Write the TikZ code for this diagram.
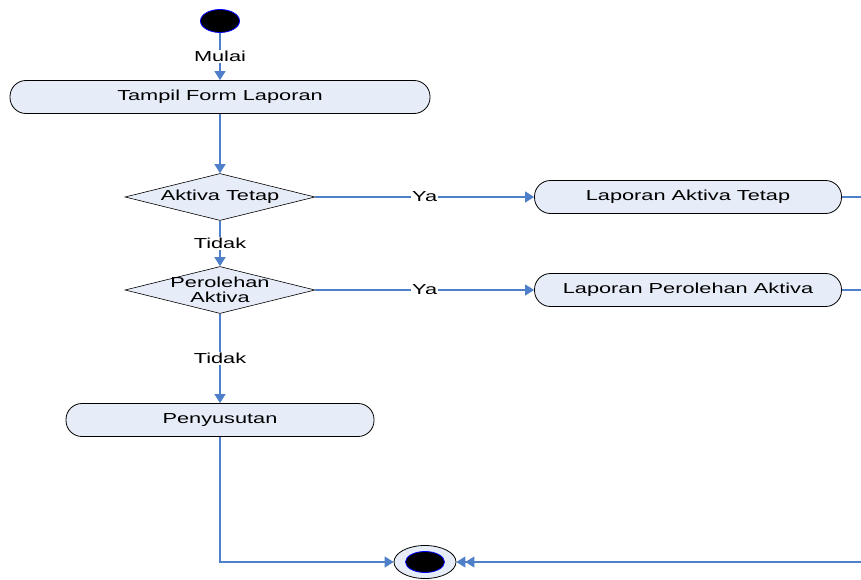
\documentclass[tikz,border=0pt]{standalone}
\usepackage{fontspec}
\setmainfont{Liberation Sans}[FakeStretch=1.5]
\usetikzlibrary{shapes.geometric,arrows.meta}
\definecolor{actfill}{HTML}{E7EDF8}
\definecolor{flowblue}{HTML}{4F7FC8}
\begin{document}
\begin{tikzpicture}[x=1pt,y=-1pt,
    font=\fontsize{14.5}{16}\selectfont,
    action/.style={draw=black, line width=0.8pt, fill=actfill, rounded corners=16pt, minimum height=33pt, inner sep=0pt},
    decision/.style={diamond, draw=black, line width=0.6pt, fill=actfill, minimum width=190pt, minimum height=47pt, inner sep=0pt},
    flow/.style={draw=flowblue, line width=1.1pt, -{Triangle[width=11pt,length=9pt]}},
    flowlabel/.style={fill=white, inner sep=1pt}]
            \useasboundingbox (0,0) rectangle (861,580);

            % Start node
            \node[ellipse, draw=blue, fill=black, line width=0.8pt, minimum width=39pt, minimum height=23pt, inner sep=0pt] (start) at (220,21) {};

            % Form node
            \node[action, minimum width=420pt] (form) at (220,97) {Tampil Form Laporan};
            \draw[flow] (start) -- node[flowlabel] {Mulai} (form);

            % First decision
            \node[decision, label={center:Aktiva Tetap}] (aktiva) at (220,197) {};
            \draw[flow] (form) -- (aktiva);

            \node[action, minimum width=307pt] (lapaktiva) at (688,197) {Laporan Aktiva Tetap};
            \draw[flow] (aktiva) -- node[flowlabel] {Ya} (lapaktiva);

            % Second decision
            \node[decision, label={[align=center, font=\fontsize{14.5}{15}\selectfont]center:Perolehan\\Aktiva}] (perolehan) at (220,290) {};
            \draw[flow] (aktiva) -- node[flowlabel] {Tidak} (perolehan);

            \node[action, minimum width=307pt] (lapperolehan) at (688,290) {Laporan Perolehan Aktiva};
            \draw[flow] (perolehan) -- node[flowlabel] {Ya} (lapperolehan);

            % Penyusutan
            \node[action, minimum width=308pt] (susut) at (220,420) {Penyusutan};
            \draw[flow] (perolehan) -- node[flowlabel] {Tidak} (susut);

            % End node
            \node[ellipse, draw=black, fill=actfill, line width=0.8pt, minimum width=62pt, minimum height=33pt, inner sep=0pt] (finish) at (425,562) {};
            \node[ellipse, draw=blue, fill=black, line width=0.8pt, minimum width=39pt, minimum height=21pt, inner sep=0pt] (finishin) at (finish) {};
            \draw[flow] (susut) |- (finish);

            % Return lines on the right
            \coordinate (right1) at (905,197);
            \coordinate (right2) at (885,290);
            \draw[flow] (lapaktiva) -- (right1) |- (finish);
            \draw[flow, shorten >=9pt] (lapperolehan) -- (right2) |- (finish);
        \end{tikzpicture}
\end{document}
